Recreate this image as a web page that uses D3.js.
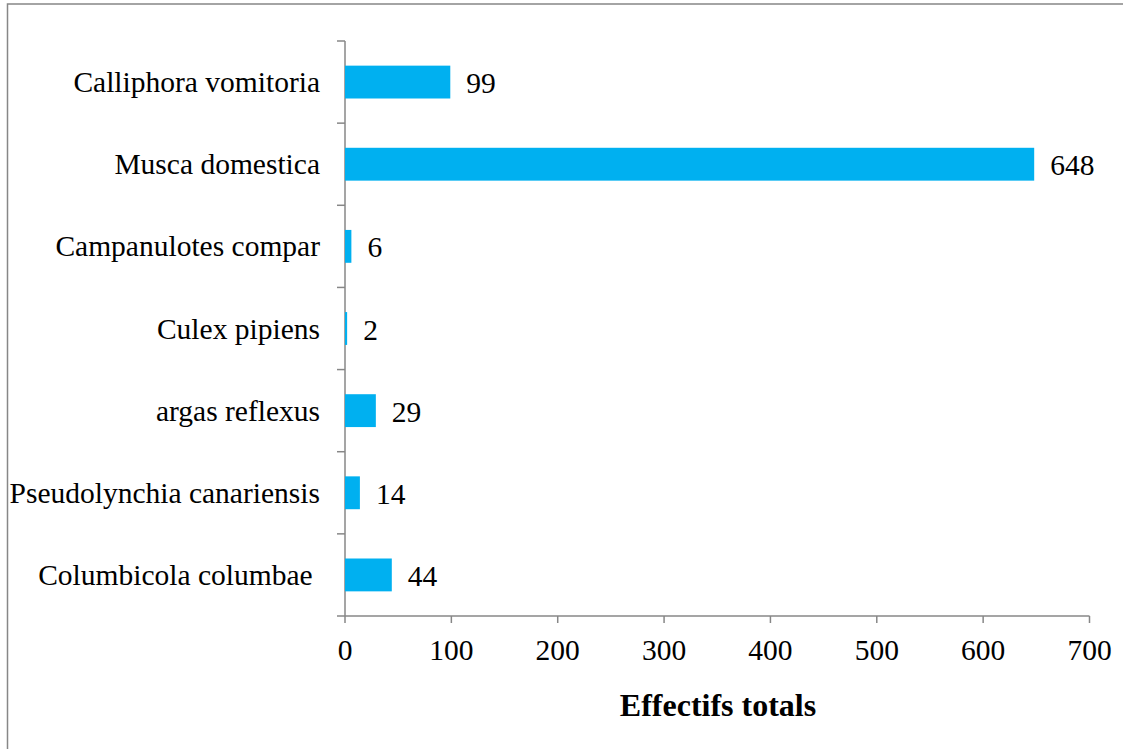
<!DOCTYPE html>
<html>
<head>
<meta charset="utf-8">
<script src="https://cdn.jsdelivr.net/npm/d3@7"></script>
<style>
  body { margin: 0; background: #fff; }
  svg text { font-family: "Liberation Serif", "Times New Roman", serif; fill: #000; }
</style>
</head>
<body>
<svg id="chart" width="1123" height="749"></svg>
<script>
// Data (top to bottom)
const species = [
  "Calliphora vomitoria",
  "Musca domestica",
  "Campanulotes compar",
  "Culex pipiens",
  "argas reflexus",
  "Pseudolynchia canariensis",
  "Columbicola columbae "
];
const counts = [99, 648, 6, 2, 29, 14, 44];
const xTicks = [0, 100, 200, 300, 400, 500, 600, 700];
const axisTitle = "Effectifs totals";

const svg = d3.select("#chart");
const axisColor = "#878787";
const barColor = "#00B0F0";

// Outer border of chart area
svg.append("rect")
  .attr("x", 7.5).attr("y", 4)
  .attr("width", 1200).attr("height", 800)
  .attr("fill", "none")
  .attr("stroke", axisColor)
  .attr("stroke-width", 1.5);

const x = d3.scaleLinear().domain([0, 700]).range([345, 1089.5]);
const y = d3.scaleBand()
  .domain(species)
  .range([41, 616])
  .paddingInner(0.6)
  .paddingOuter(0.3);

const step = y.step();
const y0 = 41, y1 = 616;

// Y axis line + ticks at band boundaries
svg.append("line")
  .attr("x1", x(0)).attr("x2", x(0))
  .attr("y1", y0).attr("y2", y1)
  .attr("stroke", axisColor).attr("stroke-width", 1.5);

svg.selectAll(".ytick")
  .data(d3.range(species.length + 1))
  .enter().append("line")
  .attr("class", "ytick")
  .attr("x1", x(0) - 8).attr("x2", x(0))
  .attr("y1", i => y0 + i * step).attr("y2", i => y0 + i * step)
  .attr("stroke", axisColor).attr("stroke-width", 1.5);

// X axis
svg.append("line")
  .attr("x1", x(0)).attr("x2", x(700))
  .attr("y1", y1).attr("y2", y1)
  .attr("stroke", axisColor).attr("stroke-width", 1.5);

svg.selectAll(".xtick")
  .data(xTicks)
  .enter().append("line")
  .attr("class", "xtick")
  .attr("x1", d => x(d)).attr("x2", d => x(d))
  .attr("y1", y1).attr("y2", y1 + 7)
  .attr("stroke", axisColor).attr("stroke-width", 1.5);

svg.selectAll(".xlabel")
  .data(xTicks)
  .enter().append("text")
  .attr("class", "xlabel")
  .attr("x", d => x(d))
  .attr("y", 660)
  .attr("text-anchor", "middle")
  .style("font-size", "29.5px")
  .text(d => d);

// Bars
svg.selectAll(".bar")
  .data(species)
  .enter().append("rect")
  .attr("class", "bar")
  .attr("x", x(0))
  .attr("y", d => y(d))
  .attr("width", (d, i) => x(counts[i]) - x(0))
  .attr("height", y.bandwidth())
  .attr("fill", barColor);

// Value labels
svg.selectAll(".value")
  .data(species)
  .enter().append("text")
  .attr("class", "value")
  .attr("x", (d, i) => x(counts[i]) + 16)
  .attr("y", d => y(d) + y.bandwidth() / 2 + 11)
  .style("font-size", "29.5px")
  .text((d, i) => counts[i]);

// Category labels
svg.selectAll(".cat")
  .data(species)
  .enter().append("text")
  .attr("class", "cat")
  .attr("x", 320)
  .attr("y", d => y(d) + y.bandwidth() / 2 + 10)
  .attr("text-anchor", "end")
  .style("font-size", "29.5px")
  .style("white-space", "pre")
  .text(d => d);

// Axis title
svg.append("text")
  .attr("x", 718)
  .attr("y", 716)
  .attr("text-anchor", "middle")
  .style("font-size", "32px")
  .style("font-weight", "bold")
  .text(axisTitle);
</script>
</body>
</html>
